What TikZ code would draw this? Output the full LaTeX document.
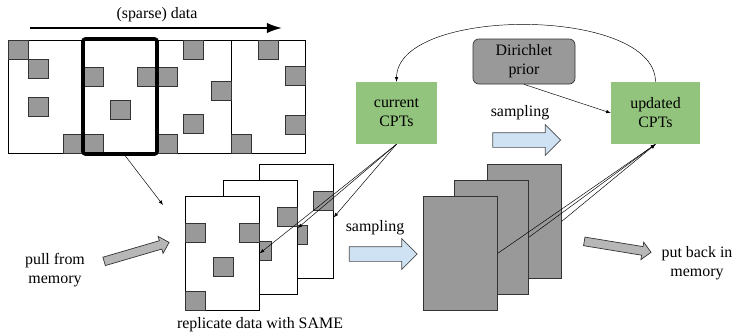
\documentclass[tikz,border=0pt]{standalone}
\usepackage{fontspec}
\setmainfont{Liberation Serif}
\usetikzlibrary{shapes.arrows,arrows.meta}
\definecolor{cptgreen}{HTML}{93C47D}
\definecolor{cellgray}{HTML}{999999}
\definecolor{flowblue}{HTML}{CFE2F3}
\definecolor{movegray}{HTML}{B7B7B7}

\begin{document}
\begin{tikzpicture}[x=0.03cm,y=-0.03cm,>=latex]
            \tikzstyle{every node}+=[inner sep=0pt]
            \tikzstyle{txt}=[font=\fontsize{13.6}{16.2}\selectfont, align=center]
            \tikzstyle{cell}=[draw=black!80, fill=cellgray, line width=0.6pt]
            \tikzstyle{page}=[draw=black, fill=white, line width=0.6pt, minimum width=2.22cm, minimum height=3.42cm]
            \tikzstyle{sheet}=[page, draw=black!80, fill=cellgray]
            \tikzstyle{cpt}=[fill=cptgreen, minimum height=1.86cm, txt]
            \tikzstyle{bigarrow}=[single arrow, draw=black!70, fill=flowblue, line width=0.6pt, inner xsep=0pt, inner ysep=0.21cm, minimum height=2.03cm, single arrow head extend=0.24cm]
            \tikzstyle{movearrow}=[single arrow, draw=black!80, fill=movegray, line width=0.6pt, inner xsep=0pt, inner ysep=0.12cm, minimum height=2.03cm, single arrow head extend=0.135cm]
            \useasboundingbox (0,0) rectangle (733,333);
            % data strip
            \coordinate (dfrom) at (30,28);
            \coordinate (dto) at (282,28);
            \draw [-{Latex[length=13pt,width=9pt]}, line width=1.6pt] (dfrom) -- (dto);
            \node [txt] (title) at (157,15) {(sparse) data};
            \draw [line width=0.6pt] (8,40) rectangle (305,153);
            \foreach \x in {82,157,231}
                \draw [line width=0.6pt] (\x,40) -- (\x,153);
            \foreach \x/\y in {8/40, 28/59, 28/97, 63/134, 83/134, 83/67, 137/67, 157/67, 110/100,
                               157/134, 183/40, 211/81, 183/114, 231/134, 258/40, 285/66, 285/115}
                \draw [cell] (\x,\y) rectangle +(20,19.5);
            \node [draw, line width=3pt, rounded corners=2pt, minimum width=2.22cm, minimum height=3.45cm] (sel) at (120,96.5) {};
            % replicated data
            \foreach \n/\x/\y in {back/259/164, mid/223/180, front/185/196} {
                \node [page, anchor=north west] (r\n) at (\x,\y) {};
                \foreach \dx/\dy in {0/27, 54/27, 28/61, 0/95}
                    \draw [cell] (\x+\dx,\y+\dy) rectangle +(20,19.5);
            }
            \node [txt] (reptxt) at (260,325) {replicate data with SAME};
            % sampled data
            \foreach \n/\x/\y in {back/487/164, mid/454/180, front/423/196}
                \node [sheet, anchor=north west] (g\n) at (\x,\y) {};
            % CPTs
            \node [cpt, minimum width=2.43cm] (cur) at (396.5,113) {current\\CPTs};
            \node [cpt, minimum width=2.67cm] (upd) at (655.5,113) {updated\\CPTs};
            \node [txt, draw=black!80, fill=cellgray, line width=0.6pt, rounded corners=5pt, minimum width=3.06cm, minimum height=1.35cm] (prior) at (524,61.5) {Dirichlet\\prior};
            % block arrows
            \node [bigarrow] (samp1) at (523,140) {};
            \node [txt] (samp1txt) at (520,113) {sampling};
            \node [bigarrow] (samp2) at (379.5,254) {};
            \node [txt] (samp2txt) at (375,228) {sampling};
            \node [movearrow, rotate=16.3] (pull) at (134.5,252.5) {};
            \node [txt] (pulltxt) at (55,270) {pull from\\memory};
            \node [movearrow, rotate=-9.3] (putback) at (615.5,246.5) {};
            \node [txt] (puttxt) at (697,263) {put back in\\memory};
            % connectors
            \coordinate (land) at (163,205);
            \draw [->] (sel.-85) -- (land);
            \draw [->] (upd.north) .. controls (655,6) and (397,6) .. (cur.north);
            \draw [->] (prior.south) -- (upd.west);
            \draw [->] (cur.south) -- (rfront.east);
            \draw [->] (cur.south) -- (rmid.14);
            \draw [->] (cur.south) -- (rback.6);
            \foreach \n in {front,mid,back}
                \draw [->] (g\n.east) -- (upd.south);
\end{tikzpicture}
\end{document}
